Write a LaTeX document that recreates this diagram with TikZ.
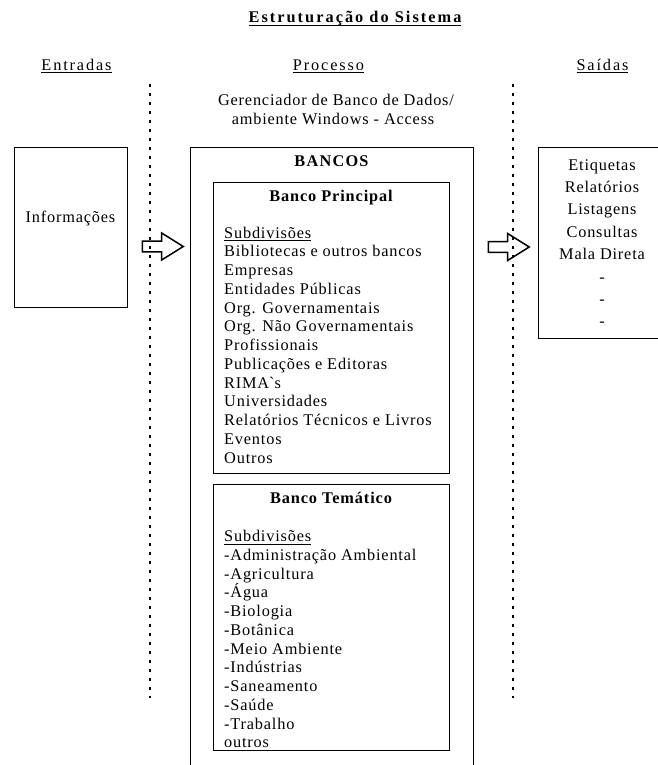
\documentclass[tikz,border=0pt]{standalone}
\usepackage{fontspec}
\setmainfont{Liberation Serif}[LetterSpace=5]
\usetikzlibrary{shapes.arrows}
\newcommand{\ulined}[1]{\setbox0=\hbox{#1}\rlap{\rule[-3pt]{\wd0}{1pt}}\box0}

\begin{document}
\begin{tikzpicture}[x=1pt,y=-1pt,
    txt/.style={inner sep=0, anchor=base, font=\fontsize{16.3}{18.75}\selectfont},
    spaced/.style={txt, font=\fontsize{16.3}{18.75}\selectfont\addfontfeature{LetterSpace=11.5}},
    boldtxt/.style={txt, font=\fontsize{16.3}{18.75}\selectfont\bfseries\addfontfeature{LetterSpace=5.5}},
    frame/.style={draw, line width=1pt, anchor=north west, inner sep=0},
    divider/.style={line width=2.8pt, dash pattern=on 3pt off 6pt},
    blockarrow/.style={single arrow, draw, line width=1.5pt, anchor=tail, inner sep=0,
      inner ysep=4.5pt, minimum height=41pt, minimum width=27pt,
      single arrow head extend=8pt, single arrow tip angle=64}]

    \useasboundingbox (0,0) rectangle (658,765);
    % title and column headings
    \node[boldtxt, font=\fontsize{16.3}{18.75}\selectfont\bfseries\addfontfeature{LetterSpace=12.5}]
      (title) at (355,23) {\ulined{Estruturação do Sistema}};
    \node[spaced] (entradas) at (76.5,70.5) {\ulined{Entradas}};
    \node[spaced] (processo) at (328.5,70.5) {\ulined{Processo}};
    \node[spaced] (saidas) at (602.5,70.5) {\ulined{Saídas}};
    \node[txt] (sgbd1) at (336,105.5) {Gerenciador de Banco de Dados/};
    \node[txt] (sgbd2) at (333,124.5) {ambiente Windows - Access};

    % dotted dividers
    \draw[divider] (150,84) -- (150,698);
    \draw[divider] (513,84) -- (513,698);

    % input
    \node[frame, minimum width=113pt, minimum height=160pt] (infobox) at (14,147) {};
    \node[txt] (info) at (70.5,222.5) {Informações};
    \node[blockarrow] (inarrow) at (141.5,246.5) {};

    % process: BANCOS
    \node[frame, minimum width=283pt, minimum height=640pt] (bancos) at (190,147) {};
    \node[boldtxt, font=\fontsize{16.3}{18.75}\selectfont\bfseries\addfontfeature{LetterSpace=7.5}]
      (bancostitle) at (331.5,166) {BANCOS};
    % Banco Principal
    \node[frame, minimum width=236pt, minimum height=291pt] (principal) at (213,182) {};
    \node[boldtxt] (principaltitle) at (331,201.7) {Banco Principal};
    \foreach \entry [count=\i] in {\ulined{Subdivisões}, Bibliotecas e outros bancos, Empresas,
        Entidades Públicas, Org. Governamentais, Org. Não Governamentais, Profissionais,
        Publicações e Editoras, RIMA\textasciigrave s, Universidades,
        Relatórios Técnicos e Livros, Eventos, Outros}
      \node[txt, anchor=base west] (principal\i) at (224,219.25+18.75*\i) {\entry};
    % Banco Tematico
    \node[frame, minimum width=236pt, minimum height=266pt] (tematico) at (213,484) {};
    \node[boldtxt] (tematicotitle) at (331,503) {Banco Temático};
    \foreach \entry [count=\i] in {\ulined{Subdivisões}, -Administração Ambiental, -Agricultura,
        -Água, -Biologia, -Botânica, -Meio Ambiente, -Indústrias, -Saneamento, -Saúde,
        -Trabalho, outros}
      \node[txt, anchor=base west] (tematico\i) at (224,522.75+18.75*\i) {\entry};

    % output
    \node[blockarrow] (outarrow) at (487.5,247) {};
    \node[frame, minimum width=140pt, minimum height=191pt] (saidasbox) at (538,147) {};
    \foreach \entry [count=\i] in {Etiquetas, Relatórios, Listagens, Consultas, Mala Direta, -, -, -}
      \node[txt] (saida\i) at (602,147.6+22.4*\i) {\entry};
\end{tikzpicture}
\end{document}
